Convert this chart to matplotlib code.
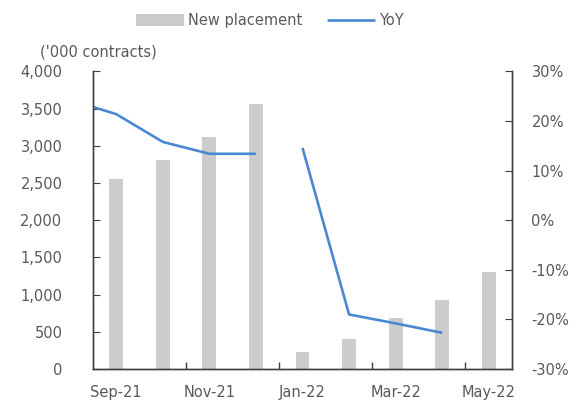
import numpy as np
import matplotlib
matplotlib.use('Agg')
import matplotlib.pyplot as plt
from matplotlib.ticker import FuncFormatter, FixedLocator

# monthly new placements ('000 contracts)
months = ['Sep-21', 'Oct-21', 'Nov-21', 'Dec-21', 'Jan-22',
          'Feb-22', 'Mar-22', 'Apr-22', 'May-22']
placement = [2550, 2810, 3115, 3565, 225, 400, 680, 930, 1300]

# YoY (%), two separate segments in the source chart
yoy_months_2021 = ['Aug-21', 'Sep-21', 'Oct-21', 'Nov-21', 'Dec-21']
yoy_2021 = [24.3, 21.4, 15.8, 13.4, 13.4]
yoy_months_2022 = ['Jan-22', 'Feb-22', 'Mar-22', 'Apr-22']
yoy_2022 = [14.6, -19.0, -20.8, -22.7]

TXT = '#595959'
AXC = '#404040'
BAR = '#cccccc'
LINE = '#4a89d2'

plt.rcParams['font.family'] = ['DejaVu Sans']
plt.rcParams['font.size'] = 10

fig = plt.figure(figsize=(5.80, 4.01), dpi=100)
ax = fig.add_axes([0.1603, 0.0798, 0.8828 - 0.1603, 0.8217 - 0.0798])
ax2 = ax.twinx()

x = np.arange(len(months))
ax.bar(x, placement, width=0.3, color=BAR, label='New placement', zorder=1)


def pos(labels):
    # Aug-21 sits one slot left of Sep-21
    return [months.index(m) if m in months else -1 for m in labels]


ax2.plot(pos(yoy_months_2021), yoy_2021, color=LINE, lw=1.9, label='YoY',
         solid_capstyle='butt')
ax2.plot(pos(yoy_months_2022), yoy_2022, color=LINE, lw=1.9,
         solid_capstyle='butt')

ax.set_xlim(-0.5, len(months) - 0.5)
ax.set_ylim(0, 4000)
ax2.set_ylim(-30, 30)
ax.set_yticks(np.arange(0, 4001, 500))
ax2.set_yticks(np.arange(-30, 31, 10))
ax.yaxis.set_major_formatter(FuncFormatter(lambda v, p: f'{v:,.0f}'))
ax2.yaxis.set_major_formatter(FuncFormatter(lambda v, p: f'{v:.0f}%'))

ax.xaxis.set_major_locator(FixedLocator([1.5, 3.5, 5.5, 7.5]))
ax.xaxis.set_minor_locator(FixedLocator(x[::2]))
ax.set_xticklabels([])
ax.set_xticklabels(months[::2], minor=True)
ax.tick_params(axis='x', which='major', direction='in', length=5,
               color=AXC, width=1)
ax.tick_params(axis='x', which='minor', length=0, pad=11.5, colors=TXT,
               labelsize=10.5)

ax.tick_params(axis='y', direction='in', length=5, color=AXC,
               labelcolor=TXT, labelsize=10.5, pad=22)
ax2.tick_params(axis='y', direction='in', length=5, color=AXC,
                labelcolor=TXT, labelsize=10.5, pad=14)

for a in (ax, ax2):
    a.spines['top'].set_visible(False)
    for s in ('left', 'right', 'bottom'):
        a.spines[s].set_color(AXC)
        a.spines[s].set_linewidth(1.0)

fig.text(0.069, 0.870, "('000 contracts)", color=TXT, fontsize=10.5,
         ha='left', va='center')

h1, l1 = ax.get_legend_handles_labels()
h2, l2 = ax2.get_legend_handles_labels()
fig.legend(h1 + h2, l1 + l2, loc='center', bbox_to_anchor=(0.465, 0.948),
           ncol=2, frameon=False, fontsize=10.5, labelcolor=TXT,
           handlelength=3.3, handleheight=0.9, handletextpad=0.3,
           columnspacing=1.65)

fig.savefig('out.png', dpi=100)
